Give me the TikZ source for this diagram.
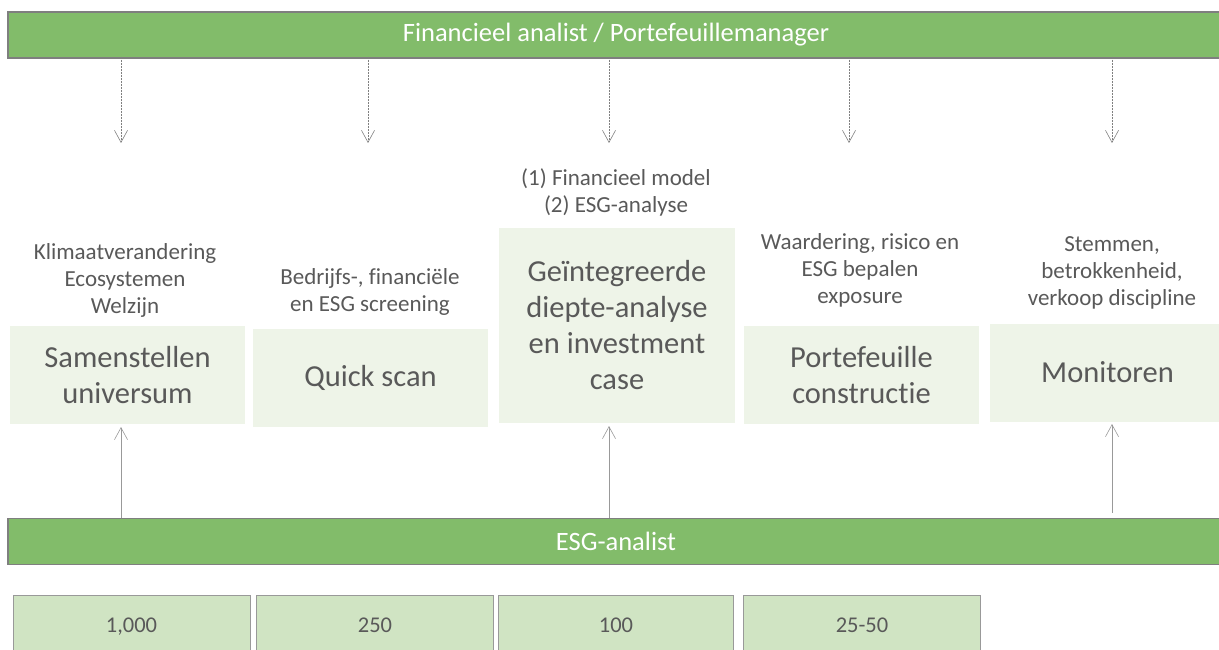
\documentclass[tikz,border=0pt]{standalone}
\usepackage{fontspec}
\setmainfont{Carlito}[Ligatures=NoCommon]
\usetikzlibrary{arrows.meta}

\definecolor{bargreen}{HTML}{82BC6A}
\definecolor{barline}{HTML}{7F7F7F}
\definecolor{stepfill}{HTML}{EEF4E8}
\definecolor{numfill}{HTML}{D0E4C3}
\definecolor{txtgray}{HTML}{595959}

\tikzstyle{rolebar} = [rectangle, draw=barline, line width=1.2pt, fill=bargreen,
    text=white, minimum width=1216pt, minimum height=46pt, font=\fontsize{26.5}{30}\selectfont]
\tikzstyle{stepbox} = [rectangle, fill=stepfill, text=txtgray, align=center,
    minimum width=235pt, minimum height=98pt, font=\fontsize{30.5}{36}\selectfont]
\tikzstyle{numbox} = [rectangle, draw=barline!80, fill=numfill, text=txtgray,
    text height=1.5ex, text depth=.25ex,
    minimum width=237pt, minimum height=70pt, font=\fontsize{22.5}{26}\selectfont]
\tikzstyle{note} = [text=txtgray, align=center, font=\fontsize{23}{27}\selectfont]
\tikzstyle{down} = [draw=gray, densely dotted, line width=.5pt,
    -{Straight Barb[length=12pt,width=13pt,line width=.6pt]}]
\tikzstyle{up} = [draw=gray!80, line width=.6pt,
    -{Straight Barb[length=12pt,width=13pt,line width=.6pt]}]

\begin{document}
\begin{tikzpicture}[x=1pt,y=-1pt]
    \useasboundingbox (0,0) rectangle (1219,650);

    % role bars
    \node[rolebar](Analist) at (616,35){Financieel analist / Portefeuillemanager};
    \node[rolebar](ESGAnalist) at (616,541.5){ESG-analist};

    % process steps
    \node[stepbox](Universum) at (127.5,375){Samenstellen\\universum};
    \node[stepbox](QuickScan) at (370.5,377.5){Quick scan};
    \node[stepbox, minimum width=236pt, minimum height=195pt]
            (Diepte) at (617,325.5){Geïntegreerde\\diepte-analyse\\en investment\\case};
    \node[stepbox](Portefeuille) at (861.5,375){Portefeuille\\constructie};
    \node[stepbox](Monitoren) at (1107.5,372.5){Monitoren};

    % notes above the steps
    \node[note](UniversumNote) at (125,280)
            {Klimaatverandering\\Ecosystemen\\Welzijn};
    \node[note](QuickScanNote) at (370,291.5)
            {Bedrijfs-, financiële\\en ESG screening};
    \node[note](DiepteNote) at (616,192)
            {(1) Financieel model\\(2) ESG-analyse};
    \node[note](PortefeuilleNote) at (860,270)
            {Waardering, risico en\\ESG bepalen\\exposure};
    \node[note](MonitorenNote) at (1112,273)
            {Stemmen,\\betrokkenheid,\\verkoop discipline};

    % number of companies
    \node[numbox](NumA) at (131.5,630){1,000};
    \node[numbox](NumB) at (375,630){250};
    \node[numbox, minimum width=235pt](NumC) at (616,630){100};
    \node[numbox](NumD) at (862,630){25-50};

    % arrows from the analyst bar
    \foreach \x/\name in {121/a, 368/b, 609/c, 849/d, 1112/e}{
        \coordinate (top\name) at (\x,143);
        \path[down] (Analist.south -| top\name) ++(0,-2) -- (top\name);
    }

    % arrows from the ESG bar
    \coordinate (UniversumIn) at (121,427);
    \coordinate (DiepteIn) at (609,426);
    \coordinate (MonitorenIn) at (1112,424);
    \path[up] (ESGAnalist.north -| UniversumIn) -- (UniversumIn);
    \path[up] (ESGAnalist.north -| DiepteIn) -- (DiepteIn);
    \path[up] (ESGAnalist.north -| MonitorenIn) ++(0,-5) -- (MonitorenIn);
\end{tikzpicture}
\end{document}
